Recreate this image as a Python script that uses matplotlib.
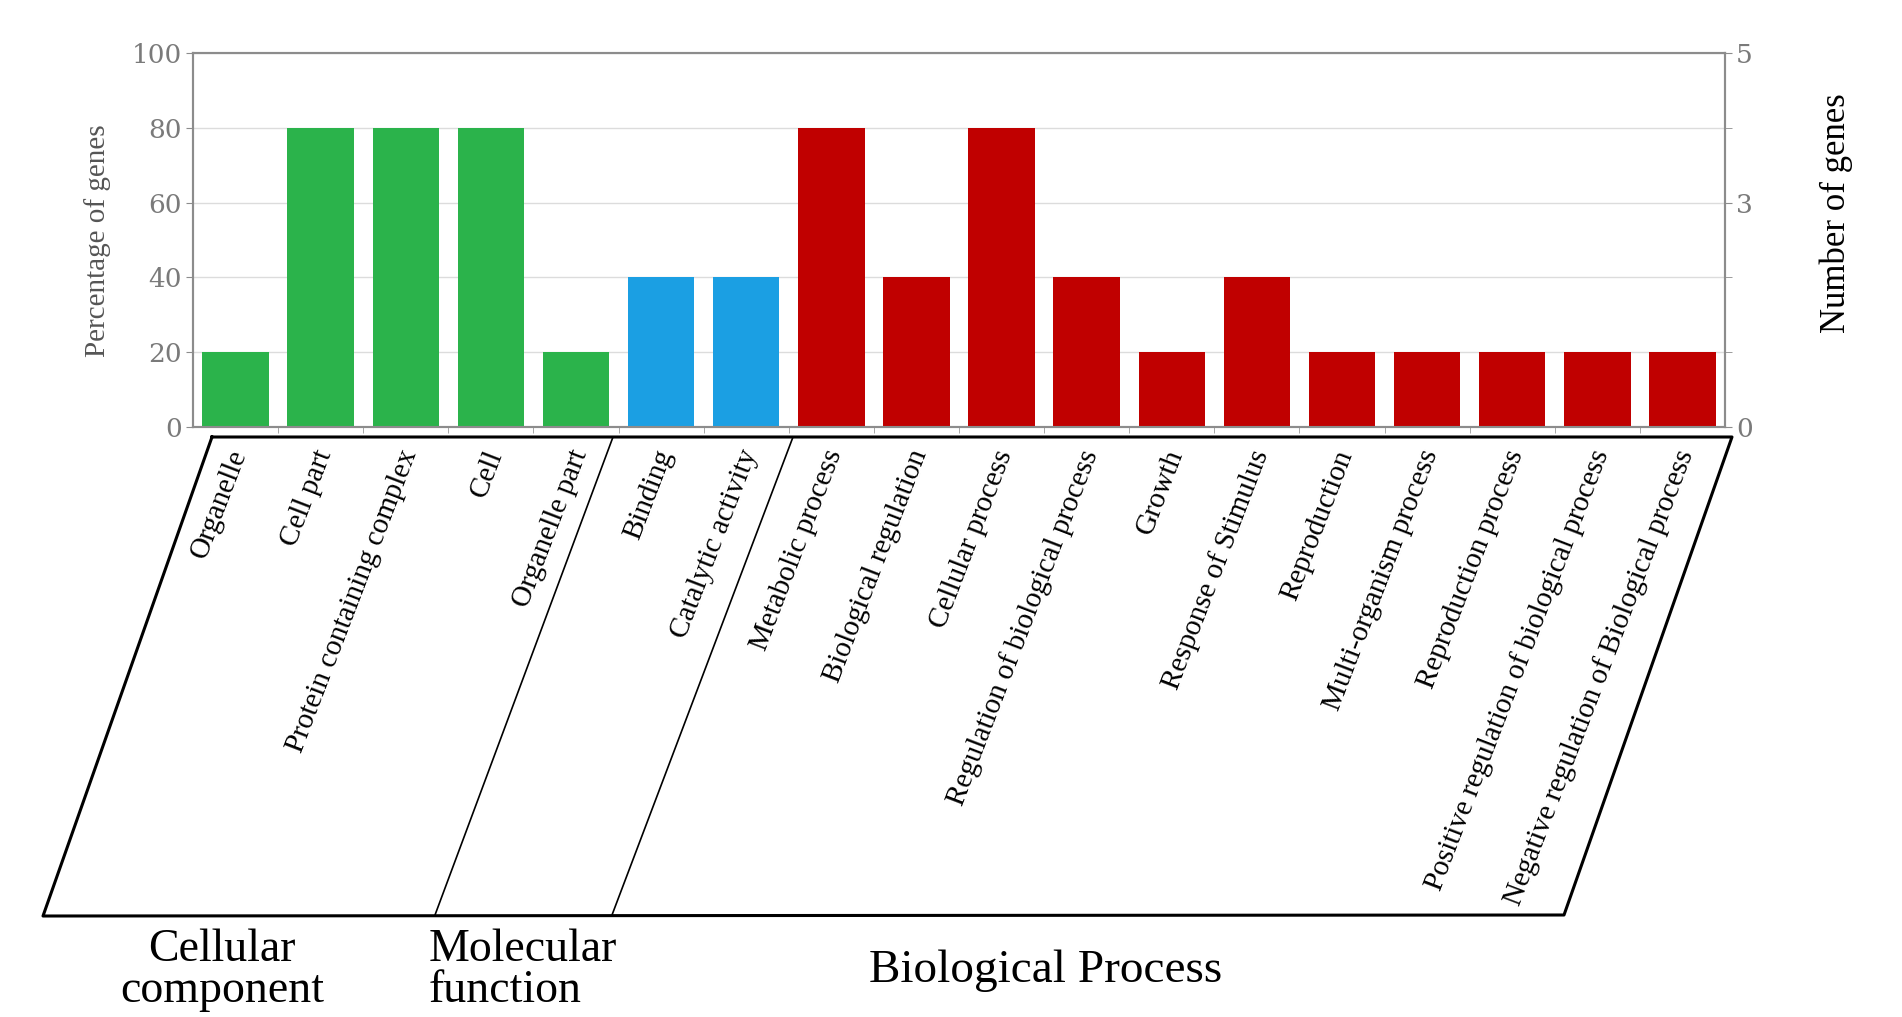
import numpy as np
import matplotlib
matplotlib.use('Agg')
import matplotlib.pyplot as plt
import matplotlib.transforms as mtransforms
from matplotlib.lines import Line2D

# GO categories, percentage of genes, and which group each belongs to
categories = ['Organelle', 'Cell part', 'Protein containing complex', 'Cell',
              'Organelle part', 'Binding', 'Catalytic activity',
              'Metabolic process', 'Biological regulation', 'Cellular process',
              'Regulation of biological process', 'Growth',
              'Response of Stimulus', 'Reproduction', 'Multi-organism process',
              'Reproduction process', 'Positive regulation of biological process',
              'Negative regulation of Biological process']
percent = [20, 80, 80, 80, 20, 40, 40, 80, 40, 80, 40, 20, 40, 20, 20, 20, 20, 20]
group = ['CC'] * 5 + ['MF'] * 2 + ['BP'] * 11
group_colors = {'CC': '#2bb34b', 'MF': '#1b9fe3', 'BP': '#c00000'}

left_ticks = [0, 20, 40, 60, 80, 100]
right_ticks = [0, 3, 5]
right_minor = [1, 2, 4]

W, H = 1902, 1017
SERIF = 'Liberation Serif'
NUMF = 'DejaVu Serif'
GRAY = '#8c8c8c'


def fx(px):
    return px / W


def fy(py):
    return 1 - py / H


fig = plt.figure(figsize=(W / 100, H / 100), dpi=100)
ax = fig.add_axes([fx(193), fy(427), fx(1725) - fx(193), fy(53) - fy(427)])

x = np.arange(len(categories))
colors = [group_colors[g] for g in group]
ax.bar(x, percent, width=0.78, color=colors, zorder=3)
ax.set_xlim(-0.5, len(categories) - 0.5)
ax.set_ylim(0, 100)
ax.set_yticks(left_ticks)
ax.grid(axis='y', color='#dcdcdc', lw=1, zorder=0)
ax.set_xticks([])
ax.set_xticks(np.arange(0.5, len(categories) - 1, 1), minor=True)
ax.tick_params(axis='x', which='minor', length=4, color='#999999', labelbottom=False)
ax.tick_params(axis='y', length=5, color=GRAY, labelsize=19, labelcolor='#7a7a7a', pad=3)
for lab in ax.get_yticklabels():
    lab.set_family(NUMF)
for s in ax.spines.values():
    s.set_color(GRAY)
    s.set_linewidth(1.5)

ax2 = ax.twinx()
ax2.set_ylim(0, 5)
ax2.set_yticks(right_ticks)
ax2.set_yticks(right_minor, minor=True)
ax2.tick_params(axis='y', which='both', length=5, color=GRAY, labelsize=19,
                labelcolor='#7a7a7a', pad=3)
for lab in ax2.get_yticklabels():
    lab.set_family(NUMF)
for s in ax2.spines.values():
    s.set_color(GRAY)
    s.set_linewidth(1.5)

# axis titles
fig.text(fx(98), fy(241), 'Percentage of genes', rotation=90, ha='center', va='center',
         fontsize=21, color='#555555', family=SERIF)
fig.text(fx(1836), fy(213), 'Number of genes', rotation=90, ha='center', va='center',
         fontsize=25, color='black', family=SERIF)

# rotated category labels just under the plot
trans = mtransforms.blended_transform_factory(ax.transData, fig.transFigure)
for xi, name in zip(x, categories):
    ax.text(xi + 0.05, fy(451), name, transform=trans, rotation=69,
            rotation_mode='anchor', ha='right', va='center',
            fontsize=21, family=SERIF, clip_on=False)

# slanted box around the labels with group dividers
box = [(212, 437), (1732, 437), (1564, 915), (43, 916), (212, 437)]
fig.add_artist(Line2D([fx(p[0]) for p in box], [fy(p[1]) for p in box],
                      transform=fig.transFigure, color='black', lw=2.2))
for (x0, y0), (x1, y1) in [((613, 437), (435, 915)), ((793, 437), (612, 915))]:
    fig.add_artist(Line2D([fx(x0), fx(x1)], [fy(y0), fy(y1)],
                          transform=fig.transFigure, color='black', lw=1.2))

# group names
fig.text(fx(222), fy(970), 'Cellular\ncomponent', ha='center', va='center',
         fontsize=33, family=SERIF, linespacing=0.95)
fig.text(fx(429), fy(970), 'Molecular\nfunction', ha='left', va='center',
         fontsize=33, family=SERIF, linespacing=0.95, multialignment='left')
fig.text(fx(1046), fy(971), 'Biological Process', ha='center', va='center',
         fontsize=34, family=SERIF)

fig.savefig('out.png', dpi=100)
